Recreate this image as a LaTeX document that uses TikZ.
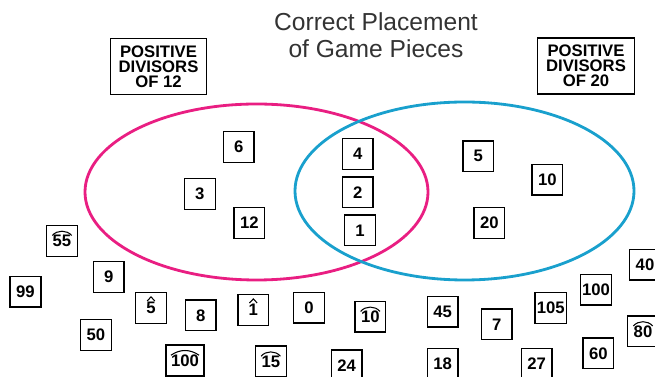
\documentclass[tikz,border=0pt]{standalone}
\usepackage{fontspec}
\setmainfont{Liberation Sans}
\usetikzlibrary{positioning}
\definecolor{setpink}{RGB}{233,30,130}
\definecolor{setblue}{RGB}{25,160,205}

\begin{document}
\begin{tikzpicture}[x=0.02cm, y=-0.02cm,
  piece/.style={draw, line width=0.75pt, rectangle, minimum size=17.5pt, inner sep=1pt,
    font=\fontsize{9.5}{10}\selectfont\bfseries},
  capmark/.style={line width=0.6pt},
  setlabel/.style={draw, line width=0.75pt, align=center, inner sep=1pt,
    minimum width=55pt, minimum height=32pt, font=\fontsize{9.5}{8.5}\selectfont\bfseries}]
\clip (0,0) rectangle (655,377);

\node[align=center, font=\fontsize{14}{15.3}\selectfont, text=black!80] (title) at (376,35.5)
  {Correct Placement\\of Game Pieces};

% Set labels
\node[setlabel] (lab12) at (158.5,66.5) {POSITIVE\\DIVISORS\\OF 12};
\node[setlabel] (lab20) at (586,66) {POSITIVE\\DIVISORS\\OF 20};

% The two sets
\draw[setpink, line width=1.6pt] (256.5,192) ellipse (171.5 and 88);
\draw[setblue, line width=1.6pt] (464.5,191) ellipse (169.5 and 89);

% Plain pieces
\foreach \num/\px/\py in {6/238.7/147, 3/199.8/194.2, 12/249.3/223,
    4/357.7/154.2, 2/357.7/192.3, 1/360/230.3,
    5/478.3/156.3, 10/547.3/179.7, 20/489.3/223,
    9/108.7/277, 99/25.5/291.7, 8/200.7/315.3, 50/95.8/335,
    0/309/307.7, 24/346.7/365.5, 45/442.7/311.7, 18/442.7/364,
    7/496.7/324.3, 27/536.7/364, 105/550.8/308, 100/596/289.7,
    60/598.3/353.3, 40/645/264.7} {
   \node[piece] (p\num) at (\px,\py) {\num};
}

% Pieces with an arc cap
\foreach \num/\px/\py in {55/62/240.8, 15/270.8/361.5, 10/370.3/316.7, 80/643/331.3} {
   \node[piece] (c\num) at (\px,\py) {\raisebox{-2pt}{\num}};
   \draw[capmark] ([shift={(-5.5pt,3pt)}]c\num.center) to[bend left=50] ([shift={(5.5pt,3pt)}]c\num.center);
}
\node[piece, minimum width=21.5pt] (c100) at (185,360.5) {\raisebox{-2pt}{100}};
\draw[capmark] ([shift={(-8pt,3pt)}]c100.center) to[bend left=35] ([shift={(8pt,3pt)}]c100.center);

% Pieces with a hat
\foreach \num/\px/\py in {5/151/308, 1/253.3/310} {
   \node[piece] (h\num) at (\px,\py) {\raisebox{-1.5pt}{\num}};
   \draw[capmark] ([shift={(-2.2pt,4pt)}]h\num.center) -- ([shift={(0pt,6.3pt)}]h\num.center)
     -- ([shift={(2.2pt,4pt)}]h\num.center);
}
\end{tikzpicture}
\end{document}
